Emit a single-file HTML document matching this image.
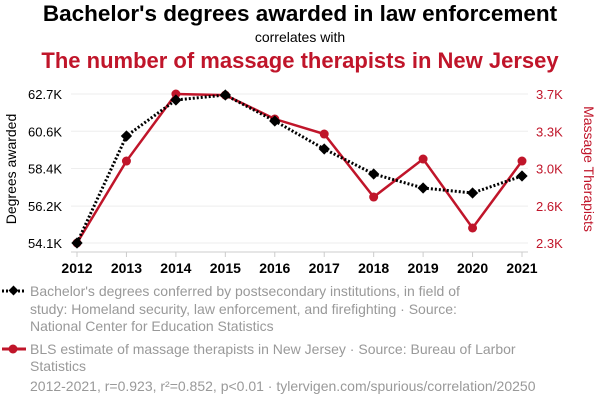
<!DOCTYPE html>
<html><head><meta charset="utf-8"><style>
body{margin:0;background:#fff;font-family:"Liberation Sans",sans-serif;}
svg text{font-family:"Liberation Sans",sans-serif;}
</style></head><body>
<svg width="600" height="408">
<text x="300" y="21" text-anchor="middle" font-size="22.5" font-weight="bold" fill="#000">Bachelor's degrees awarded in law enforcement</text>
<text x="300" y="42" text-anchor="middle" font-size="14" fill="#000">correlates with</text>
<text x="300" y="68" text-anchor="middle" font-size="22" font-weight="bold" fill="#c0152a">The number of massage therapists in New Jersey</text>
<g id="grid"></g>
<g id="axes"></g>
<g id="marks"></g>
<text transform="translate(16,169) rotate(-90)" text-anchor="middle" font-size="14">Degrees awarded</text>
<text transform="translate(584,169) rotate(90)" text-anchor="middle" font-size="14" fill="#c0152a">Massage Therapists</text>
<g>
<line x1="2" y1="291" x2="26" y2="291" stroke="#000" stroke-width="3" stroke-dasharray="2,2"/>
<rect x="10" y="287" width="7" height="7" transform="rotate(45 13.5 290.5)" fill="#000"/>
<text font-size="14" fill="#999"><tspan x="30" y="296">Bachelor's degrees conferred by postsecondary institutions, in field of</tspan><tspan x="30" y="314">study: Homeland security, law enforcement, and firefighting · Source:</tspan><tspan x="30" y="331">National Center for Education Statistics</tspan></text>
</g>
<g>
<line x1="2" y1="349" x2="26" y2="349" stroke="#c0152a" stroke-width="3"/>
<circle cx="13" cy="349" r="4.5" fill="#c0152a"/>
<text font-size="14" fill="#999"><tspan x="30" y="354">BLS estimate of massage therapists in New Jersey · Source: Bureau of Larbor</tspan><tspan x="30" y="371">Statistics</tspan></text>
</g>
<text x="30" y="391" font-size="14" fill="#999">2012-2021, r=0.923, r²=0.852, p&lt;0.01 · tylervigen.com/spurious/correlation/20250</text>
</svg>
<script>
const years=[2012,2013,2014,2015,2016,2017,2018,2019,2020,2021];
const degrees=[54100,60276,62354,62642,61142,59526,58083,57275,56986,57967];
const therapists=[2300,3070,3700,3690,3465,3324,2732,3089,2441,3070];
const leftTicks=[54100,56225,58400,60550,62700];
const leftLabels=["54.1K","56.2K","58.4K","60.6K","62.7K"];
const rightTicks=[2300,2650,3000,3350,3700];
const rightLabels=["2.3K","2.6K","3.0K","3.3K","3.7K"];
const NS="http://www.w3.org/2000/svg";
const x0=77,x1=522,yTop=94,yBot=243;
const xs=i=>x0+(x1-x0)*i/(years.length-1);
const yl=v=>yBot-(v-54100)/(62700-54100)*(yBot-yTop);
const yr=v=>yBot-(v-2300)/(3700-2300)*(yBot-yTop);
function mk(t,a,p){const e=document.createElementNS(NS,t);for(const k in a)e.setAttribute(k,a[k]);p.appendChild(e);return e;}
const grid=document.getElementById('grid'),axes=document.getElementById('axes'),marks=document.getElementById('marks');
leftTicks.forEach((v,i)=>{
 const g=mk('line',{x1:x0-6,x2:x1+6,y1:yl(v),y2:yl(v),stroke:'#eee','stroke-width':1},grid);
 
 
 const t=mk('text',{x:x0-15,y:yl(v)+5,'text-anchor':'end','font-size':13},axes);t.textContent=leftLabels[i];
 
 
});
rightTicks.forEach((v,i)=>{
 const t=mk('text',{x:x1+14,y:yr(v)+5,'text-anchor':'start','font-size':13,fill:'#c0152a'},axes);t.textContent=rightLabels[i];
 
 
});
const ax=mk('line',{x1:x0-6,x2:x1+6,y1:252,y2:252,stroke:'#ccc','stroke-width':1},axes);


years.forEach((y,i)=>{
 const tk=mk('line',{x1:xs(i),x2:xs(i),y1:252,y2:257,stroke:'#ccc','stroke-width':1},axes);
 
 
 const t=mk('text',{x:xs(i),y:273,'text-anchor':'middle','font-size':14,'font-weight':'bold'},axes);t.textContent=y;
 
 
});
const rp=mk('polyline',{points:therapists.map((v,i)=>xs(i)+','+yr(v)).join(' '),fill:'none',stroke:'#c0152a','stroke-width':2.5},marks);


therapists.forEach((v,i)=>{const c=mk('circle',{cx:xs(i),cy:yr(v),r:4.5,fill:'#c0152a'},marks);
 
 });
const bp=mk('polyline',{points:degrees.map((v,i)=>xs(i)+','+yl(v)).join(' '),fill:'none',stroke:'#000','stroke-width':3,'stroke-dasharray':'2,2'},marks);


degrees.forEach((v,i)=>{const x=xs(i),y=yl(v);const r=mk('rect',{x:x-4,y:y-4,width:8,height:8,fill:'#000',transform:`rotate(45 ${x} ${y})`},marks);
 
 });
</script>
</body></html>
